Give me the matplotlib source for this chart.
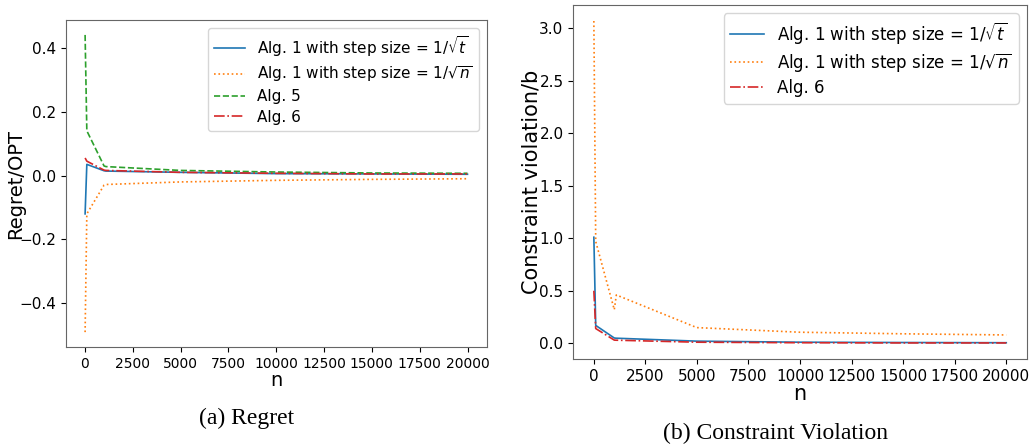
import matplotlib
matplotlib.use('Agg')
import matplotlib.pyplot as plt

# sample sizes
n = [10, 100, 1000, 1100, 5000, 10000, 15000, 20000]

# regret / OPT
regret_sqrt_t = [-0.12, 0.035, 0.015, 0.014, 0.010, 0.006, 0.005, 0.004]
regret_sqrt_n = [-0.49, -0.12, -0.030, -0.028, -0.020, -0.015, -0.012, -0.010]
regret_alg5 = [0.44, 0.14, 0.030, 0.028, 0.016, 0.011, 0.008, 0.007]
regret_alg6 = [0.055, 0.045, 0.017, 0.016, 0.010, 0.007, 0.005, 0.005]

# constraint violation / b
viol_sqrt_t = [1.01, 0.17, 0.05, 0.048, 0.020, 0.010, 0.007, 0.005]
viol_sqrt_n = [3.07, 0.97, 0.32, 0.46, 0.149, 0.105, 0.090, 0.079]
viol_alg6 = [0.50, 0.14, 0.030, 0.029, 0.010, 0.005, 0.003, 0.003]

lab_t = r'Alg. 1 with step size = $1/\sqrt{t}$'
lab_n = r'Alg. 1 with step size = $1/\sqrt{n}$'
xt = [0, 2500, 5000, 7500, 10000, 12500, 15000, 17500, 20000]

fig = plt.figure(figsize=(10.31, 4.46), dpi=100)

ax1 = fig.add_axes([0.064, 0.222, 0.408, 0.733])
ax1.plot(n, regret_sqrt_t, color='tab:blue', ls='-', lw=1.2, label=lab_t)
ax1.plot(n, regret_sqrt_n, color='tab:orange', ls=':', lw=1.2, label=lab_n)
ax1.plot(n, regret_alg5, color='tab:green', ls='--', lw=1.2, label='Alg. 5')
ax1.plot(n, regret_alg6, color='tab:red', ls='-.', lw=1.2, label='Alg. 6')
ax1.set_xlabel('n', fontsize=14, labelpad=0)
ax1.set_ylabel('Regret/OPT', fontsize=14)
ax1.yaxis.set_label_coords(-0.097, 0.5)
ax1.set_xticks(xt)
ax1.set_yticks([-0.4, -0.2, 0.0, 0.2, 0.4])
ax1.tick_params(labelsize=11)
ax1.tick_params(axis='x', labelsize=10)
ax1.legend(fontsize=11, loc='upper right', labelspacing=0.35)

ax2 = fig.add_axes([0.556, 0.195, 0.440, 0.794])
ax2.plot(n, viol_sqrt_t, color='tab:blue', ls='-', lw=1.2, label=lab_t)
ax2.plot(n, viol_sqrt_n, color='tab:orange', ls=':', lw=1.2, label=lab_n)
ax2.plot(n, viol_alg6, color='tab:red', ls='-.', lw=1.2, label='Alg. 6')
ax2.set_xlabel('n', fontsize=15, labelpad=0)
ax2.set_ylabel('Constraint violation/b', fontsize=15)
ax2.yaxis.set_label_coords(-0.070, 0.5)
ax2.set_xticks(xt)
ax2.tick_params(labelsize=11)
ax2.legend(fontsize=12, loc='upper right', labelspacing=0.3)

for ax in (ax1, ax2):
    for s in ax.spines.values():
        s.set_color('0.4')

fig.text(0.2396, 0.062, '(a) Regret', fontsize=17, family='Liberation Serif',
         ha='center', va='center')
fig.text(0.752, 0.028, '(b) Constraint Violation', fontsize=17,
         family='Liberation Serif', ha='center', va='center')

fig.savefig('out.png', dpi=100)
